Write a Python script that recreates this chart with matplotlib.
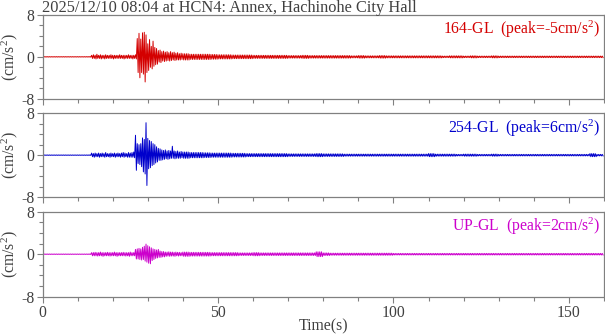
import numpy as np
import matplotlib
matplotlib.use("Agg")
import matplotlib.pyplot as plt
from matplotlib.ticker import MultipleLocator

plt.rcParams['font.family'] = ['Liberation Serif', 'DejaVu Serif']
plt.rcParams['mathtext.fontset'] = 'custom'
plt.rcParams['mathtext.rm'] = 'Liberation Serif'
plt.rcParams['mathtext.it'] = 'Liberation Serif:italic'
plt.rcParams['axes.unicode_minus'] = False

title = "2025/12/10 08:04 at HCN4: Annex, Hachinohe City Hall"
names = ["164-GL", "254-GL", "UP-GL"]
peaks = [-5, 6, 2]
colors = ["#d40000", "#0000cc", "#cc00cc"]

# time grids (s): quiet pre-event, 0.5 s bins through the main shaking, 2 s bins for the coda
t_pre = np.arange(0.0, 13.0, 1.0)
t_fine = np.arange(13.0, 40.0, 0.5)
t_tail = np.arange(40.0, 160.0, 2.0)

# pre-event amplitude per 1 s bin (cm/s^2)
pre_164 = [0.04] * 13
pre_254 = [0.04] * 13
pre_up = [0.04] * 13

# max / min per 0.5 s bin, 13.0 - 39.5 s
hi_164 = [0.05, 0.05, 0.3, 0.4, 0.3, 0.5, 0.3, 0.4, 0.3, 0.3, 0.4, 0.3, 0.3, 0.4,
          0.3, 0.3, 0.3, 0.3, 0.4, 0.3, 0.3, 0.3, 0.3, 0.4, 0.3, 0.3, 0.3, 0.4,
          3.5, 4.5, 3.4, 4.6, 4.7, 4.2, 2.5, 3.3, 2.0, 3.0, 1.8, 1.6, 1.2, 1.3,
          1.0, 1.1, 0.9, 1.0, 0.8, 1.0, 0.8, 0.9, 0.7, 0.8, 0.6, 0.7]
lo_164 = [-0.05, -0.05, -0.3, -0.3, -0.4, -0.3, -0.3, -0.4, -0.3, -0.4, -0.3, -0.3, -0.3, -0.3,
          -0.4, -0.3, -0.3, -0.3, -0.3, -0.3, -0.4, -0.3, -0.3, -0.3, -0.3, -0.4, -0.3, -0.4,
          -3.0, -4.0, -3.0, -3.3, -4.8, -3.0, -2.6, -2.0, -2.3, -1.8, -1.5, -1.4, -1.0, -1.1,
          -0.8, -0.9, -0.8, -0.7, -0.8, -0.7, -0.6, -0.7, -0.6, -0.6, -0.6, -0.5]

hi_254 = [0.05, 0.05, 0.4, 0.3, 0.4, 0.3, 0.4, 0.3, 0.4, 0.3, 0.5, 0.3, 0.3, 0.4,
          0.3, 0.4, 0.3, 0.4, 0.3, 0.4, 0.5, 0.4, 0.3, 0.5, 0.4, 0.5, 0.6, 3.8,
          2.2, 2.0, 2.2, 3.3, 3.0, 6.2, 3.2, 2.8, 2.6, 2.2, 2.0, 1.6, 1.3, 1.2,
          1.0, 0.9, 1.0, 0.8, 0.9, 0.8, 1.7, 0.8, 0.7, 0.8, 0.6, 0.7]
lo_254 = [-0.05, -0.05, -0.3, -0.4, -0.3, -0.3, -0.4, -0.3, -0.3, -0.4, -0.3, -0.3, -0.4, -0.3,
          -0.3, -0.4, -0.3, -0.3, -0.4, -0.3, -0.4, -0.3, -0.4, -0.4, -0.4, -0.4, -0.5, -2.9,
          -1.6, -1.8, -2.2, -3.2, -3.6, -5.8, -2.6, -2.4, -2.0, -1.8, -1.5, -1.3, -1.0, -1.0,
          -0.9, -0.8, -0.7, -0.8, -0.7, -0.6, -0.6, -0.7, -0.6, -0.6, -0.6, -0.5]

hi_up = [0.05, 0.05, 0.3, 0.3, 0.35, 0.3, 0.3, 0.4, 0.3, 0.3, 0.3, 0.35, 0.3, 0.3,
         0.3, 0.4, 0.3, 0.3, 0.3, 0.3, 0.35, 0.3, 0.3, 0.3, 0.4, 0.3, 0.3, 0.9,
         1.0, 1.1, 1.0, 1.3, 1.5, 1.9, 1.6, 1.4, 1.2, 1.0, 0.9, 0.8, 0.9, 0.6,
         0.5, 0.5, 0.4, 0.4, 0.45, 0.4, 0.4, 0.35, 0.4, 0.35, 0.35, 0.3]
lo_up = [-0.05, -0.05, -0.3, -0.3, -0.3, -0.35, -0.3, -0.3, -0.4, -0.3, -0.3, -0.3, -0.35, -0.3,
         -0.3, -0.3, -0.4, -0.3, -0.3, -0.3, -0.3, -0.35, -0.3, -0.4, -0.3, -0.3, -0.3, -0.9,
         -0.9, -1.0, -1.1, -1.0, -1.3, -1.5, -1.7, -1.8, -1.2, -1.0, -0.8, -0.7, -0.6, -0.6,
         -0.5, -0.5, -0.4, -0.35, -0.4, -0.35, -0.35, -0.4, -0.3, -0.35, -0.3, -0.3]

# coda amplitude per 2 s bin, 40 - 158 s
tail_164 = [0.6, 0.5, 0.5, 0.5, 0.45, 0.4, 0.4, 0.35, 0.35, 0.35, 0.3, 0.3, 0.3, 0.3, 0.3,
            0.25, 0.25, 0.3, 0.25, 0.25, 0.25, 0.25, 0.25, 0.25, 0.2, 0.25, 0.2, 0.2, 0.25, 0.2,
            0.2, 0.2, 0.2, 0.2, 0.2, 0.2, 0.2, 0.15, 0.2, 0.2, 0.15, 0.2, 0.15, 0.15, 0.2,
            0.15, 0.15, 0.15, 0.15, 0.15, 0.15, 0.15, 0.15, 0.15, 0.15, 0.15, 0.15, 0.15, 0.15, 0.15]
tail_254 = [0.6, 0.5, 0.5, 0.45, 0.4, 0.4, 0.4, 0.35, 0.35, 0.3, 0.3, 0.3, 0.3, 0.3, 0.3,
            0.25, 0.25, 0.25, 0.25, 0.3, 0.25, 0.25, 0.25, 0.2, 0.2, 0.2, 0.2, 0.2, 0.2, 0.2,
            0.2, 0.2, 0.2, 0.2, 0.2, 0.3, 0.2, 0.2, 0.2, 0.15, 0.2, 0.2, 0.15, 0.15, 0.2,
            0.15, 0.15, 0.15, 0.15, 0.15, 0.15, 0.15, 0.15, 0.15, 0.15, 0.15, 0.15, 0.15, 0.3, 0.15]
tail_up = [0.4, 0.35, 0.35, 0.35, 0.3, 0.3, 0.3, 0.3, 0.25, 0.25, 0.3, 0.25, 0.25, 0.25, 0.25,
           0.25, 0.25, 0.25, 0.25, 0.45, 0.25, 0.2, 0.2, 0.2, 0.2, 0.2, 0.2, 0.2, 0.2, 0.2,
           0.15, 0.15, 0.15, 0.15, 0.15, 0.15, 0.15, 0.15, 0.15, 0.15, 0.15, 0.15, 0.15, 0.15, 0.15,
           0.15, 0.15, 0.15, 0.15, 0.15, 0.15, 0.15, 0.15, 0.15, 0.15, 0.15, 0.15, 0.15, 0.15, 0.15]

pre = [pre_164, pre_254, pre_up]
his = [hi_164, hi_254, hi_up]
los = [lo_164, lo_254, lo_up]
tails = [tail_164, tail_254, tail_up]

DT = 0.25  # spacing of the drawn max/min swings


def swings(t, hi, lo, step):
    # each bin is drawn as alternating max / min swings every DT seconds
    n = int(round(step / DT))
    x = (np.asarray(t)[:, None] + DT * np.arange(n)[None, :]).ravel()
    y = np.where(np.arange(n) % 2 == 0, np.asarray(hi)[:, None], np.asarray(lo)[:, None]).ravel()
    return x, y


fig = plt.figure(figsize=(6.05, 3.34), dpi=100)
W, H = 605.0, 334.0
left, right = 42.5, 604.0
panel_px = [(15.0, 98.7), (113.3, 197.0), (211.7, 296.7)]
frame_col = "#808080"
text_col = "#404040"
fs = 11.3

for i in range(3):
    top, bot = panel_px[i]
    ax = fig.add_axes([left / W, 1 - bot / H, (right - left) / W, (bot - top) / H])

    x0, y0 = swings(t_pre, pre[i], -np.asarray(pre[i]), 1.0)
    x1, y1 = swings(t_fine, his[i], los[i], 0.5)
    x2, y2 = swings(t_tail, tails[i], -np.asarray(tails[i]), 2.0)
    x = np.concatenate([x0, x1, x2])
    y = np.concatenate([y0, y1, y2])
    ax.plot(x, y, color=colors[i], lw=0.7)

    ax.set_xlim(0, 160)
    ax.set_ylim(-8, 8)
    ax.set_yticks([-8, 0, 8])
    ax.yaxis.set_minor_locator(MultipleLocator(2))
    ax.xaxis.set_major_locator(MultipleLocator(50))
    ax.xaxis.set_minor_locator(MultipleLocator(10))
    ax.tick_params(which='both', direction='out', colors=frame_col, labelcolor=text_col,
                   labelsize=fs, width=0.8, top=False, right=False, pad=2)
    ax.tick_params(which='major', length=4)
    ax.tick_params(which='minor', length=3)
    for s in ax.spines.values():
        s.set_color(frame_col)
        s.set_linewidth(0.9)
    if i < 2:
        ax.set_xticklabels([])
    else:
        ax.set_xlabel("Time(s)", color=text_col, fontsize=fs)
        ax.xaxis.set_label_coords(0.5, -0.25)
    ax.set_ylabel("(cm/s$^2$)", color=text_col, fontsize=fs)
    ax.yaxis.set_label_coords(-0.04, 0.5)

    ax.text(0.993, 0.95, f"{names[i]}  (peak={peaks[i]}cm/s$^2$)", transform=ax.transAxes,
            ha='right', va='top', color=colors[i], fontsize=fs)

fig.text(left / W, 1 - 7.5 / H, title, ha='left', va='center', color=text_col, fontsize=11.8)

fig.savefig("out.png", dpi=100)
